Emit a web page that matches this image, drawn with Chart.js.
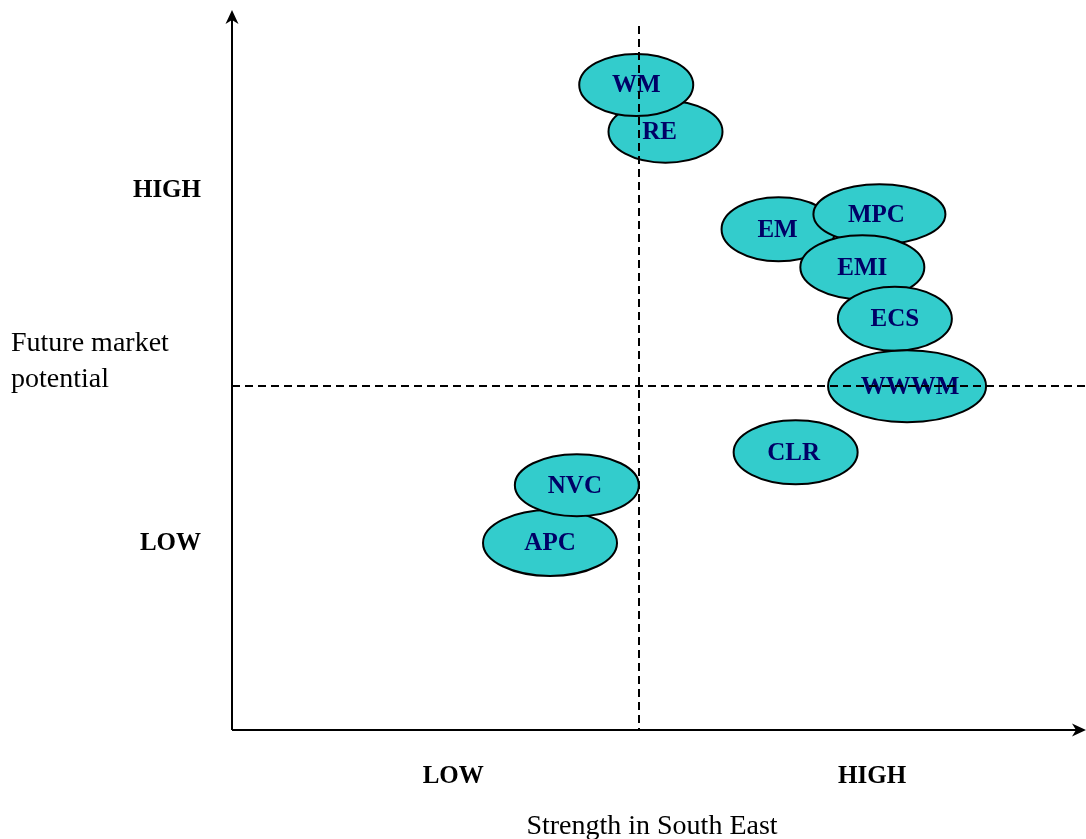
<!DOCTYPE html>
<html>
<head>
<meta charset="utf-8">
<script src="https://cdn.jsdelivr.net/npm/chart.js@4/dist/chart.umd.min.js"></script>
<style>
    body { margin: 0; background: #fff; }
    canvas { display: block; }
</style>
</head>
<body>
<canvas id="matrixChart" width="1086" height="839"></canvas>
<script>
// businesses, in drawing order (later ones sit on top)
const names     = ['RE', 'WM', 'EM', 'MPC', 'EMI', 'ECS', 'WWWM', 'CLR', 'APC', 'NVC'];
const strength  = [5.33, 4.97, 6.72, 7.96, 7.75, 8.15, 8.30, 6.93, 3.91, 4.24];
const potential = [8.70, 9.38, 7.28, 7.50, 6.73, 5.98, 5.00, 4.04, 2.72, 3.56];

// axis labels
const xTickLabels = ['LOW', 'HIGH'];
const xTickValues = [2.72, 7.87];
const yTickLabels = ['LOW', 'HIGH'];
const yTickValues = [2.72, 7.86];
const xDivider = 5;
const yDivider = 5;

//..ellipse sizes and label nudges in pixels (style only)
const ellipseRx = [57, 57, 57, 66, 62, 57, 79, 62, 67, 62];
const ellipseRy = [31, 31, 32, 30, 32, 32, 36, 32, 33, 31];
const labelDx   = [-6, 0, -1, -3, 0, 0, 3, -2, 0, -2];

const serif = '"Liberation Serif", "Times New Roman", serif';

function arrowHead(ctx, x, y, dir) {
    // dir: 'up' or 'right'
    ctx.save();
    ctx.translate(x, y);
    if (dir === 'right') ctx.rotate(Math.PI / 2);
    ctx.beginPath();
    ctx.moveTo(0, 0);
    ctx.lineTo(6.5, 14);
    ctx.lineTo(0, 10);
    ctx.lineTo(-6.5, 14);
    ctx.closePath();
    ctx.fillStyle = '#000';
    ctx.fill();
    ctx.restore();
}

const matrixPlugin = {
    id: 'matrix',
    afterDatasetsDraw(chart) {
        const ctx = chart.ctx;
        const area = chart.chartArea;
        const xs = chart.scales.x;
        const ys = chart.scales.y;
        const meta = chart.getDatasetMeta(0);

        //..ellipses
        meta.data.forEach((pt, i) => {
            ctx.save();
            ctx.beginPath();
            ctx.ellipse(pt.x, pt.y, ellipseRx[i], ellipseRy[i], 0, 0, Math.PI * 2);
            ctx.fillStyle = '#33CCCC';
            ctx.fill();
            ctx.lineWidth = 2;
            ctx.strokeStyle = '#000';
            ctx.stroke();
            ctx.fillStyle = '#000066';
            ctx.font = 'bold 25px ' + serif;
            ctx.textAlign = 'center';
            ctx.textBaseline = 'middle';
            ctx.fillText(names[i], pt.x + labelDx[i], pt.y + 1);
            ctx.restore();
        });

        //..dashed quadrant lines
        ctx.save();
        ctx.setLineDash([8, 5]);
        ctx.lineWidth = 2;
        ctx.strokeStyle = '#000';
        const vx = Math.round(xs.getPixelForValue(xDivider));
        const hy = Math.round(ys.getPixelForValue(yDivider));
        ctx.beginPath();
        ctx.moveTo(vx, area.top + 14);
        ctx.lineTo(vx, area.bottom);
        ctx.stroke();
        ctx.beginPath();
        ctx.moveTo(area.left, hy);
        ctx.lineTo(area.right, hy);
        ctx.stroke();
        ctx.restore();

        //..axes with arrows
        ctx.save();
        ctx.lineWidth = 2;
        ctx.strokeStyle = '#000';
        ctx.beginPath();
        ctx.moveTo(area.left, area.bottom);
        ctx.lineTo(area.left, area.top + 8);
        ctx.moveTo(area.left, area.bottom);
        ctx.lineTo(area.right - 8, area.bottom);
        ctx.stroke();
        arrowHead(ctx, area.left, area.top - 2, 'up');
        arrowHead(ctx, area.right, area.bottom, 'right');
        ctx.restore();

        //..tick labels
        ctx.save();
        ctx.fillStyle = '#000';
        ctx.font = 'bold 25px ' + serif;
        ctx.textBaseline = 'middle';
        ctx.textAlign = 'right';
        yTickLabels.forEach((t, i) => {
            ctx.fillText(t, area.left - 31, ys.getPixelForValue(yTickValues[i]) + 1);
        });
        ctx.textAlign = 'center';
        xTickLabels.forEach((t, i) => {
            ctx.fillText(t, xs.getPixelForValue(xTickValues[i]), area.bottom + 47);
        });

        //..axis titles
        ctx.font = '28px ' + serif;
        ctx.textAlign = 'left';
        ctx.fillText('Future market', 11, 344);
        ctx.fillText('potential', 11, 380);
        ctx.textAlign = 'center';
        ctx.fillText('Strength in South East', 652, 827);
        ctx.restore();
    }
};

new Chart(document.getElementById('matrixChart'), {
    type: 'scatter',
    data: {
        datasets: [{
            data: names.map((n, i) => ({ x: strength[i], y: potential[i] })),
            pointRadius: 0,
            pointHoverRadius: 0
        }]
    },
    options: {
        responsive: false,
        animation: false,
        layout: {
            padding: { left: 232, right: 0, top: 12, bottom: 109 }
        },
        scales: {
            x: { display: false, min: 0, max: 10.5 },
            y: { display: false, min: 0, max: 10.44 }
        },
        plugins: {
            legend: { display: false },
            tooltip: { enabled: false }
        }
    },
    plugins: [matrixPlugin]
});
</script>
</body>
</html>
